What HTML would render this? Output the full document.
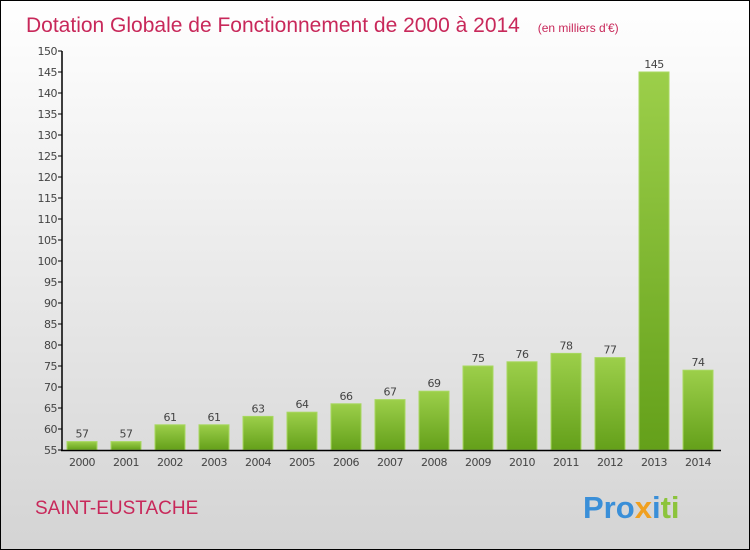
<!DOCTYPE html>
<html><head><meta charset="utf-8">
<style>
body{margin:0}
#c{width:748px;height:548px;border:1px solid #000;background:linear-gradient(#ffffff,#d4d4d4);position:relative;overflow:hidden;font-family:"DejaVu Sans","Liberation Sans",sans-serif}
</style></head><body>
<div id="c">
<svg width="748" height="548" id="s">
<defs>
<linearGradient id="g" x1="0" y1="0" x2="0" y2="1">
<stop offset="0" stop-color="#9ccf4a"/><stop offset="1" stop-color="#64a01a"/>
</linearGradient>
</defs>
<text x="25" y="31" font-size="21" fill="#c8285a" font-family="Liberation Sans, sans-serif">Dotation Globale de Fonctionnement de 2000 à 2014 <tspan font-size="12" dx="12">(en milliers d'€)</tspan></text>
<text x="34" y="513" font-size="19" fill="#c8285a" font-family="Liberation Sans, sans-serif">SAINT-EUSTACHE</text>
<text x="582" y="517" font-size="31" font-weight="bold" font-family="Liberation Sans, sans-serif"><tspan fill="#3a8fd8">Pro</tspan><tspan fill="#f0a020">x</tspan><tspan fill="#3a8fd8">i</tspan><tspan fill="#8cc43c">ti</tspan></text>
<g id="plot"></g>
</svg>
</div>
<script>
const categories=["2000","2001","2002","2003","2004","2005","2006","2007","2008","2009","2010","2011","2012","2013","2014"];
const values=[57,57,61,61,63,64,66,67,69,75,76,78,77,145,74];
const yTicks=[55,60,65,70,75,80,85,90,95,100,105,110,115,120,125,130,135,140,145,150];
const NS="http://www.w3.org/2000/svg";
const g=document.getElementById('plot');
const y=v=>449-(v-55)*(399/95);
const x=i=>81+i*44;
function mk(t,a){const e=document.createElementNS(NS,t);for(const k in a)e.setAttribute(k,a[k]);g.appendChild(e);return e;}
yTicks.forEach(v=>{
 const l=mk('line',{x1:57,x2:61,y1:y(v),y2:y(v),stroke:'#000'});
 
 
 const t=mk('text',{x:56,y:y(v)+4,'font-size':11,'text-anchor':'end',fill:'#444','letter-spacing':'-0.5'});
 t.textContent=v;
 
 
});
values.forEach((v,i)=>{
 const r=mk('rect',{x:x(i)-15,y:y(v),width:30,height:449-y(v),fill:'url(#g)',stroke:'#a8d860','stroke-width':1});
 
 
 const t=mk('text',{x:x(i),y:y(v)-4,'font-size':11,'text-anchor':'middle',fill:'#444','letter-spacing':'-0.5'});
 t.textContent=values[i];
 
 
 const c=mk('text',{x:x(i),y:465,'font-size':11,'text-anchor':'middle',fill:'#444','letter-spacing':'-0.5'});
 c.textContent=categories[i];
 
 
});
const ya=mk('line',{x1:61,x2:61,y1:y(150),y2:450,stroke:'#000','stroke-width':1.5});


const xa=mk('line',{x1:60,x2:720,y1:449.5,y2:449.5,stroke:'#000','stroke-width':1.5});


</script>
</body></html>
